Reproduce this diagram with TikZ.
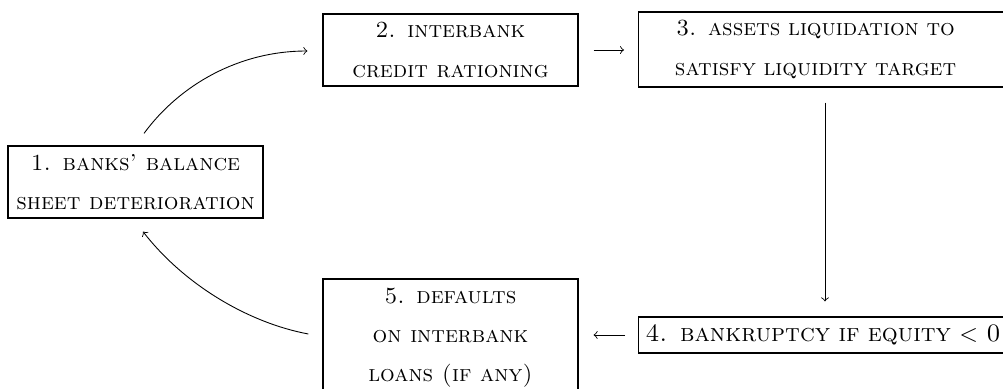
\documentclass[tikz,border=0pt]{standalone}
\newdimen\px \px=0.4545pt
\begin{document}
\begin{tikzpicture}[x=\px,y=-\px,
  box/.style={draw, line width=0.55pt, inner sep=0pt, align=center,
    font=\fontsize{10.5}{17.8}\selectfont\scshape},
  arr/.style={->, line width=0.4pt}]
\useasboundingbox (0,0) rectangle (1003,388);
\clip (0,0) rectangle (1003,388);
\node[box, minimum width=255*\px, minimum height=72*\px] (b1) at (135.5,182)
  {1. banks' balance\\ sheet deterioration};
\node[box, minimum width=255*\px, minimum height=72*\px] (b2) at (450.5,50)
  {2. interbank\\ credit rationing};
\node[box, anchor=west, minimum width=374*\px, minimum height=75*\px,
  text width=360*\px, inner xsep=7*\px] (b3) at (638,49.5)
  {\hspace*{-20\px}3. assets liquidation to\\ \hspace*{-20\px}satisfy liquidity target};
\node[box, anchor=west, minimum width=374*\px, minimum height=36*\px,
  text width=360*\px, align=left, inner xsep=7*\px,
  font=\fontsize{11.4}{14}\selectfont\scshape] (b4) at (638,335)
  {4. bankruptcy if equity $<$ 0};
\node[box, minimum width=255*\px, minimum height=117*\px] (b5) at (450.5,337.5)
  {5. defaults\\ on interbank\\ loans (if any)};
\coordinate (v) at (825,0);
% 1 -> 2
\draw[arr] ([shift={(8.5,-12)}]b1.north) .. controls +(36,-49) and +(-68,0) .. ([shift={(-15,1)}]b2.west);
% 2 -> 3
\draw[arr, shorten <=15*\px, shorten >=14*\px] (b2.east) -- (b3.west |- b2.east);
% 3 -> 4
\draw[arr, shorten <=15*\px, shorten >=15*\px] (b3.south -| v) -- (b4.north -| v);
% 4 -> 5
\draw[arr, shorten <=13*\px, shorten >=15*\px] (b4.west) -- (b4.west -| b5.east);
% 5 -> 1
\draw[arr] ([shift={(-14,-3.5)}]b5.west) .. controls +(-59,-11) and +(42,54) .. ([shift={(7.5,13)}]b1.south);
\end{tikzpicture}
\end{document}
